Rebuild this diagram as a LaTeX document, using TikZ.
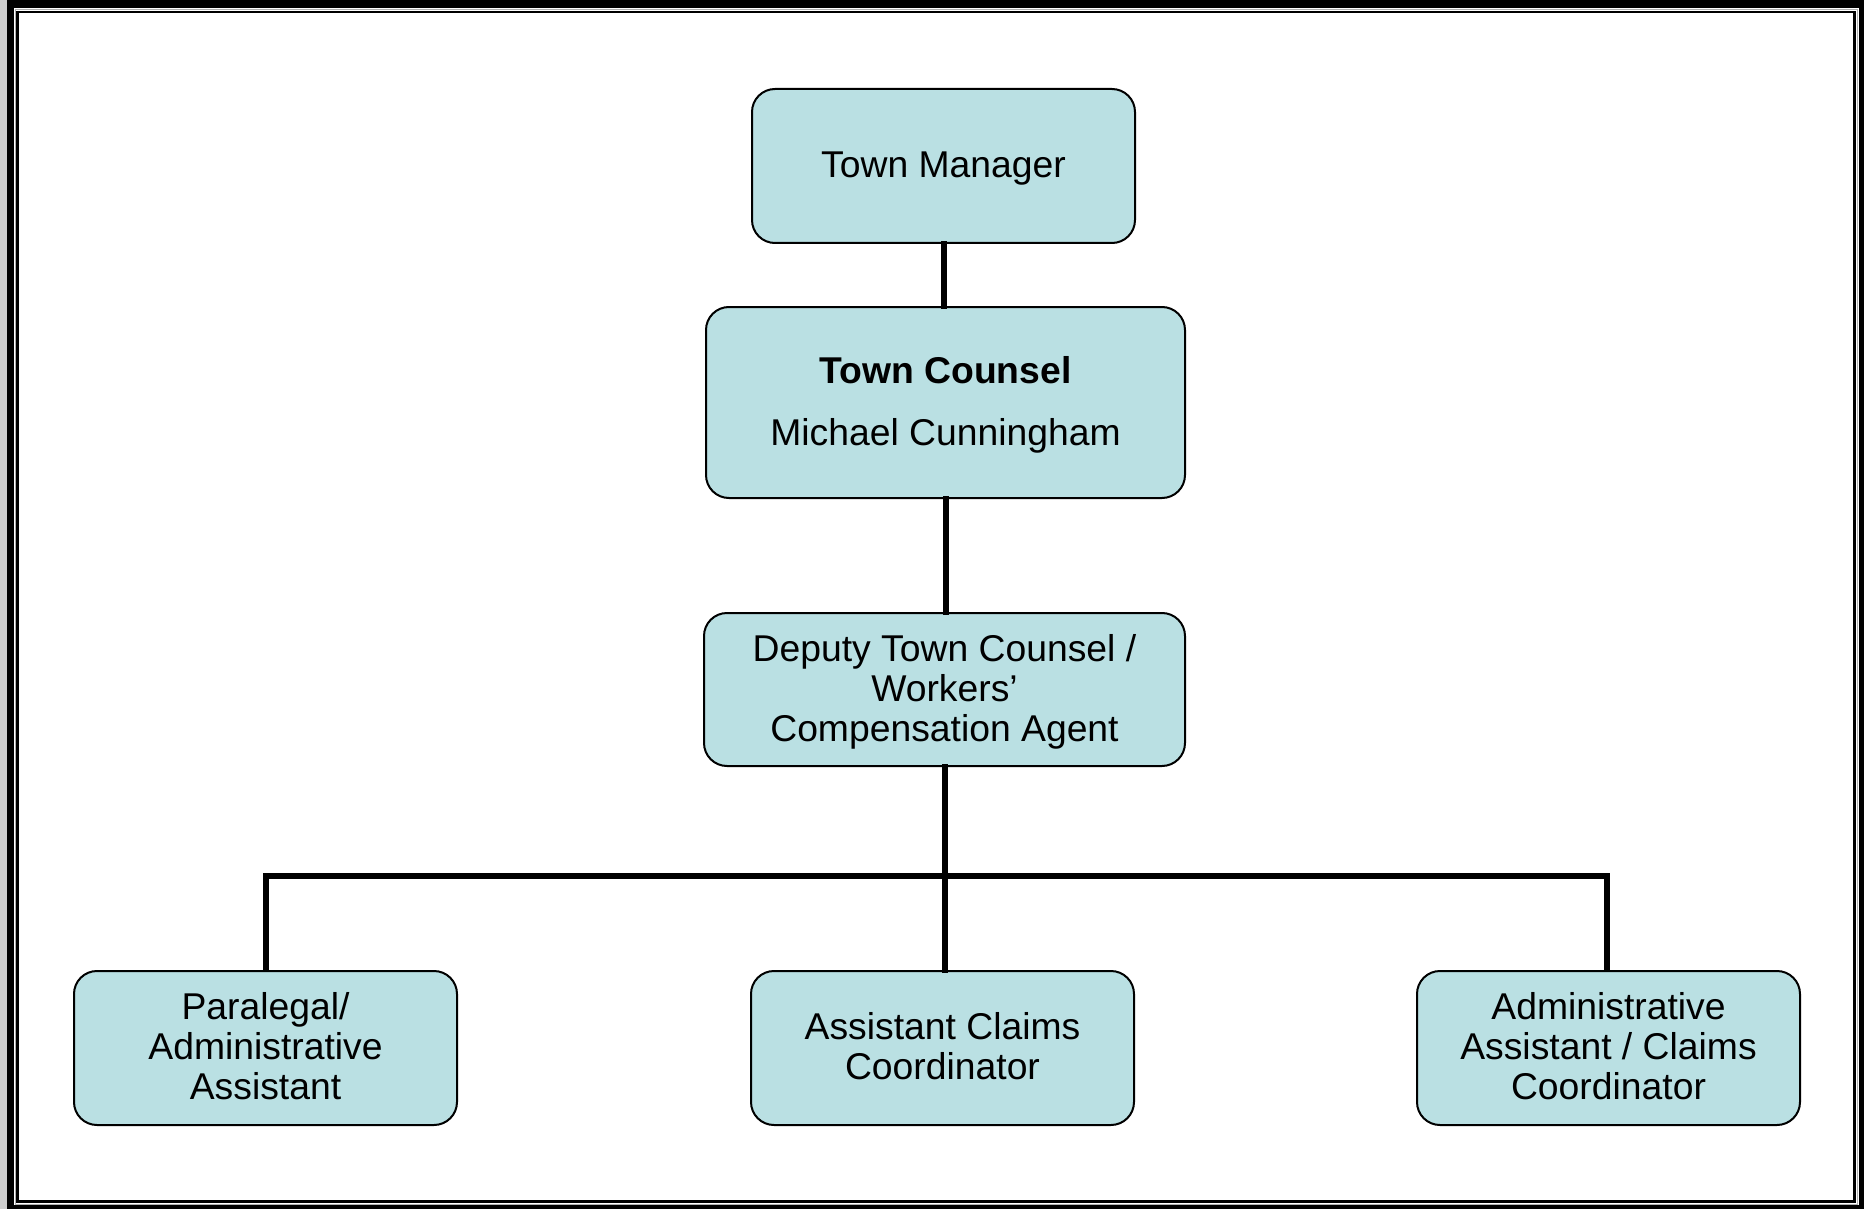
\documentclass[tikz,border=0pt]{standalone}
\usepackage{fontspec}
\setmainfont{Liberation Sans}
\definecolor{boxfill}{RGB}{186,224,227}
\definecolor{framegray}{RGB}{205,205,205}
% box text: centred lines, lowered slightly without changing the box size
\newcommand{\boxtext}[2][3.6pt]{\raisebox{-#1}[\height][\depth]{\begin{tabular}{@{}c@{}}#2\end{tabular}}}
\begin{document}
\begin{tikzpicture}[x=1pt,y=-1pt,
  orgbox/.style={draw=black, line width=2pt, fill=boxfill, rounded corners=23pt,
    minimum width=383pt, minimum height=154pt, inner sep=0pt,
    font=\fontsize{37.3}{40}\selectfont},
  link/.style={line width=6pt, line join=miter, line cap=rect}]
% page frame
\fill[framegray] (0,0) rectangle (1864,1209);
\useasboundingbox (0,0) rectangle (1864,1209);
\fill[black] (7,0) rectangle (1864,1209);
\fill[white] (14,8) rectangle (1859,1205);
\draw[gray!60, line width=1pt] (15.5,9.5) rectangle (1857.5,1204);
\draw[black, line width=2.5pt] (17.5,12) rectangle (1854.5,1201.5);

% boxes
\node[orgbox] (tm) at (943.5,166) {\boxtext{Town Manager}};
\node[orgbox, minimum width=479pt, minimum height=191pt] (tc) at (945.5,402.5)
  {\boxtext{\textbf{Town Counsel}\\[22pt]Michael Cunningham}};
\node[orgbox, minimum width=481pt, minimum height=153pt] (dep) at (944.5,689.5)
  {\boxtext{Deputy Town Counsel /\\Workers'\\Compensation Agent}};
\node[orgbox] (pl) at (265.5,1048) {\boxtext{Paralegal/\\Administrative\\Assistant}};
\node[orgbox] (ac) at (942.5,1048) {\boxtext{Assistant Claims\\Coordinator}};
\node[orgbox] (ad) at (1608.5,1048) {\boxtext{Administrative\\Assistant / Claims\\Coordinator}};

% connectors
\coordinate (bus) at (945,875.5);
\coordinate (adtop) at (1606.5,0);
\draw[link] (tm.south) -- (tm.south |- tc.north);
\draw[link] (tc.south) -- (tc.south |- dep.north);
\draw[link] (dep.south) -- (dep.south |- ac.north);
\draw[link, line cap=butt] (pl.north) -- (pl.north |- bus) -- (adtop |- bus) -- (adtop |- ad.north);
\end{tikzpicture}
\end{document}
